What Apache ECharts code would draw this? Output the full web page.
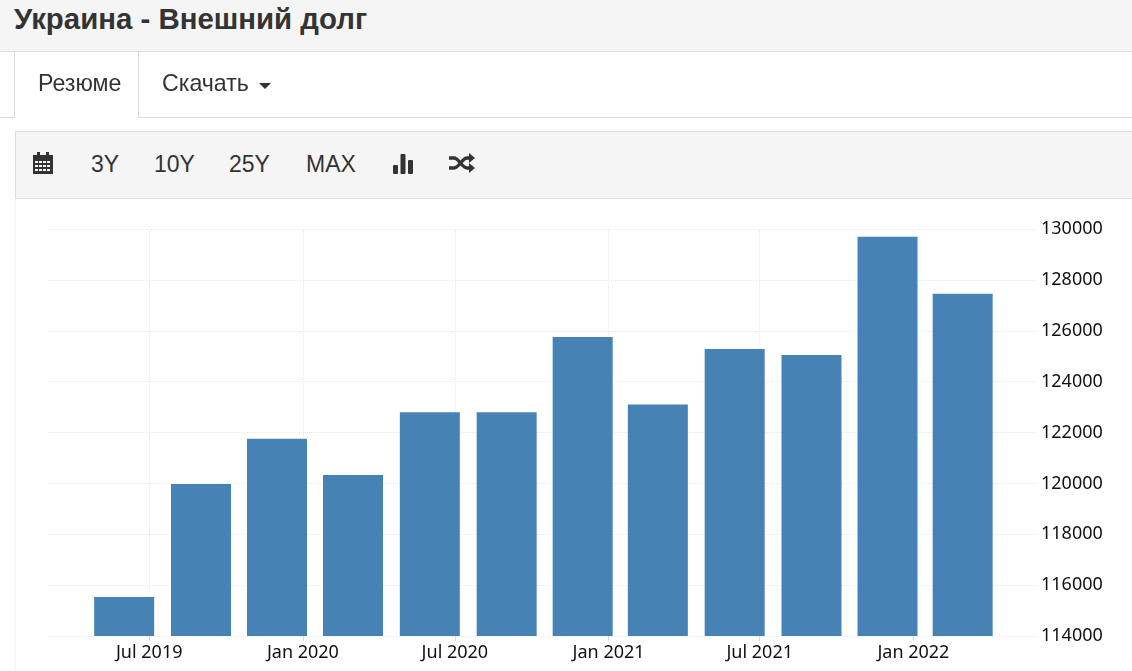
<!DOCTYPE html>
<html><head><meta charset="utf-8">
<style>
html,body{margin:0;padding:0;background:#fff;width:1132px;height:671px;overflow:hidden;font-family:"Liberation Sans",Arial,sans-serif;color:#333}
.abs{position:absolute;white-space:nowrap;line-height:1}
#head{position:absolute;left:0;top:0;width:1132px;height:51px;background:#f5f5f5;border-bottom:1px solid #ddd}
#tabline{position:absolute;left:0;top:117px;width:1132px;height:1px;background:#ddd}
#tab{position:absolute;left:14px;top:52px;width:123px;height:66px;background:#fff;border:1px solid #ddd;border-width:0 1px}
#bar{position:absolute;left:15px;top:131px;width:1117px;height:66px;background:#f5f5f5;border:1px solid #ddd;border-right:0}
#edge{position:absolute;left:15px;top:198px;width:1px;height:473px;background:#f4f4f4}
#chart{position:absolute;left:0;top:0;width:1132px;height:671px}
.caret{position:absolute;left:259px;top:83px;width:0;height:0;border-left:6px solid transparent;border-right:6px solid transparent;border-top:6px solid #333}
svg{position:absolute}
</style></head><body>
<div id="edge"></div>
<div id="chart"></div>
<div id="head"></div>
<div class="abs" style="left:14px;top:4px;font-size:29.4px;font-weight:bold">Украина - Внешний долг</div>
<div id="tabline"></div><div id="tab"></div>
<div class="abs" style="left:38px;top:72px;font-size:23.2px">Резюме</div>
<div class="abs" style="left:162px;top:72px;font-size:23.2px">Скачать</div>
<div class="caret"></div>
<div id="bar"></div>
<svg style="left:32px;top:151px" width="22" height="24" viewBox="0 0 22 24"><path fill="#333" d="M1 4h20v19H1z"/><path fill="#333" d="M5 1h3v5H5zM14 1h3v5h-3z"/><g fill="#f5f5f5"><path d="M3 10h3v2H3zM7 10h3v2H7zM11 10h3v2h-3zM15 10h3v2h-3zM3 14h3v2H3zM7 14h3v2H7zM11 14h3v2h-3zM15 14h3v2h-3zM3 18h3v2H3zM7 18h3v2H7zM11 18h3v2h-3zM15 18h3v2h-3z"/></g></svg>
<div class="abs" style="left:91px;top:153px;font-size:23px">3Y</div>
<div class="abs" style="left:154px;top:153px;font-size:23px">10Y</div>
<div class="abs" style="left:229px;top:153px;font-size:23px">25Y</div>
<div class="abs" style="left:306px;top:153px;font-size:23px">MAX</div>
<svg style="left:392px;top:153px" width="22" height="22" viewBox="0 0 22 22"><g fill="#333"><rect x="1" y="12" width="5" height="9" rx="1"/><rect x="8.5" y="1" width="5" height="20" rx="1"/><rect x="16" y="7" width="5" height="14" rx="1"/></g></svg>
<svg style="left:448px;top:152px" width="28" height="22" viewBox="0 0 28 22"><g fill="none" stroke="#333" stroke-width="3.4"><path d="M1 6h5c5 0 8 10 13 10h3"/><path d="M1 16h5c5 0 8-10 13-10h3"/></g><path fill="#333" d="M21 1l6 5-6 5zM21 11l6 5-6 5z"/></svg>
<script src="https://cdn.jsdelivr.net/npm/echarts@6/dist/echarts.min.js"></script>
<script>
const dates = ['2019-06-01','2019-09-01','2019-12-01','2020-03-01','2020-06-01','2020-09-01','2020-12-01','2021-03-01','2021-06-01','2021-09-01','2021-12-01','2022-03-01'];
const debtValues = [115530,119980,121750,120330,122800,122800,125750,123100,125280,125050,129700,127450];
const tickDates = ['2019-07-01','2020-01-01','2020-07-01','2021-01-01','2021-07-01','2022-01-01'];
const tickLabels = ['Jul 2019','Jan 2020','Jul 2020','Jan 2021','Jul 2021','Jan 2022'];
const ts = s => new Date(s + 'T00:00:00Z').getTime();
const tickValues = tickDates.map(ts);
const chart = echarts.init(document.getElementById('chart'), null, {renderer:'canvas'});
const labelFont = {color:'#111', fontFamily:'"Noto Sans"', fontSize:18};
const gridStyle = {color:'#e8e8e8', width:1, type:'dotted'};
chart.setOption({
  animation:false,
  backgroundColor:'transparent',
  grid:{left:49, right:95, top:229, bottom:35},
  xAxis:{
    type:'value',
    min:ts('2019-03-03'), max:ts('2022-05-29'),
    axisLine:{show:false},
    axisTick:{show:true, length:5, lineStyle:{color:'#d8d8d8'}, customValues:tickValues},
    axisLabel:Object.assign({margin:8, hideOverlap:false, showMinLabel:true, showMaxLabel:true, customValues:tickValues,
      formatter:v => tickLabels[tickValues.indexOf(v)] || ''}, labelFont),
    splitLine:{show:true, lineStyle:gridStyle}
  },
  yAxis:{
    type:'value', position:'right', min:114000, max:130000, interval:2000,
    axisLine:{show:false}, axisTick:{show:false},
    axisLabel:Object.assign({margin:4, formatter:v => String(v)}, labelFont),
    splitLine:{show:true, lineStyle:gridStyle}
  },
  series:[{
    type:'bar', barWidth:60,
    itemStyle:{color:'#4682b4'},
    data:dates.map((d,i)=>[ts(d), debtValues[i]])
  }]
});
</script>
</body></html>
